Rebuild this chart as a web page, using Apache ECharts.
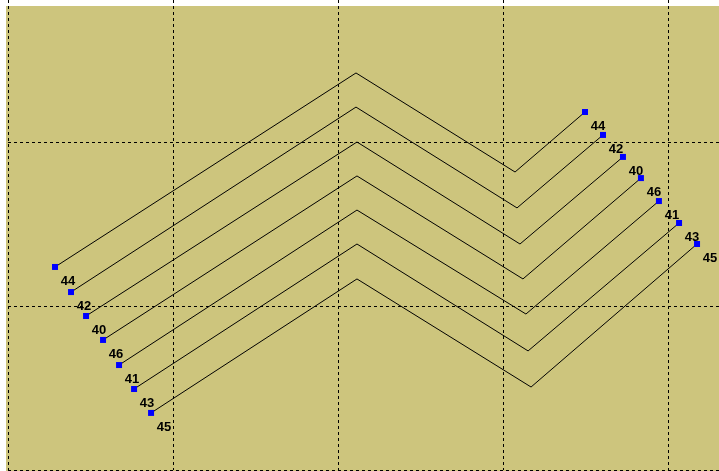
<!DOCTYPE html>
<html>
<head>
<meta charset="utf-8">
<script src="https://cdn.jsdelivr.net/npm/echarts@6/dist/echarts.min.js"></script>
<style>
  html, body { margin: 0; padding: 0; background: #fff; }
  #chart { width: 719px; height: 471px; }
</style>
</head>
<body>
<div id="chart"></div>
<script>
// values (grid units: one dashed cell = 100)
const labelValues = [44, 42, 40, 46, 41, 43, 45];
const startX  = [28.5, 38.2, 47.3, 57.6, 67.3, 76.4, 86.7];
const startY  = [123.8, 108.5, 93.9, 79.3, 64.0, 49.4, 34.8];
const peakX   = [210.9, 210.9, 211.5, 211.5, 211.5, 211.5, 211.5];
const peakY   = [242.1, 221.3, 200.0, 179.3, 158.5, 137.8, 116.5];
const valleyX = [307.3, 308.5, 310.3, 312.1, 313.9, 315.2, 317.0];
const valleyY = [181.7, 159.8, 137.8, 116.5, 95.1, 72.6, 50.6];
const endX    = [349.7, 360.6, 372.7, 383.6, 394.5, 406.7, 417.6];
const endY    = [218.3, 204.3, 190.9, 178.0, 164.0, 150.6, 137.8];

const chart = echarts.init(document.getElementById('chart'));

// one polyline per label value, markers and labels only on the two ends
const series = labelValues.map((v, i) => ({
  type: 'line',
  name: String(v),
  symbol: 'rect',
  symbolSize: 6,
  showAllSymbol: true,
  itemStyle: { color: '#0000ff' },
  lineStyle: { color: '#000', width: 1 },
  label: {
    show: true,
    position: 'inside',
    offset: [13, 14],
    formatter: () => String(v),
    color: '#000',
    fontSize: 13,
    fontWeight: 'bold',
    fontFamily: 'Liberation Sans'
  },
  data: [
    [startX[i], startY[i]],
    { value: [peakX[i], peakY[i]], symbol: 'none', label: { show: false } },
    { value: [valleyX[i], valleyY[i]], symbol: 'none', label: { show: false } },
    [endX[i], endY[i]]
  ]
}));

const splitStyle = { color: '#000', width: 1, type: [3, 3] };

const option = {
  animation: false,
  backgroundColor: '#fff',
  graphic: {
    elements: [
      {
        type: 'rect',
        z: -10,
        silent: true,
        shape: { x: 6, y: 6, width: 713, height: 465 },
        style: { fill: '#cdc57d' }
      },
      {
        // title cut off by the top edge, only its lowest pixels show
        type: 'text',
        x: 0,
        y: -13,
        silent: true,
        style: {
          text: '等值线分布示意图（单位：米）',
          fill: '#999',
          font: '12px "Noto Sans CJK SC"'
        }
      }
    ]
  },
  grid: { left: 8, top: 0, width: 711, height: 470 },
  xAxis: {
    type: 'value',
    min: 0, max: 711 * 100 / 165, interval: 100,
    axisLine: { show: false },
    axisTick: { show: false },
    axisLabel: { show: false },
    splitLine: { show: true, showMaxLine: false, lineStyle: splitStyle }
  },
  yAxis: {
    type: 'value',
    min: 0, max: 470 * 100 / 164, interval: 100,
    axisLine: { show: false },
    axisTick: { show: false },
    axisLabel: { show: false },
    splitLine: { show: true, showMaxLine: false, lineStyle: splitStyle }
  },
  series: series
};

chart.setOption(option);

window.addEventListener('resize', function () {
  chart.resize();
});
</script>
</body>
</html>
